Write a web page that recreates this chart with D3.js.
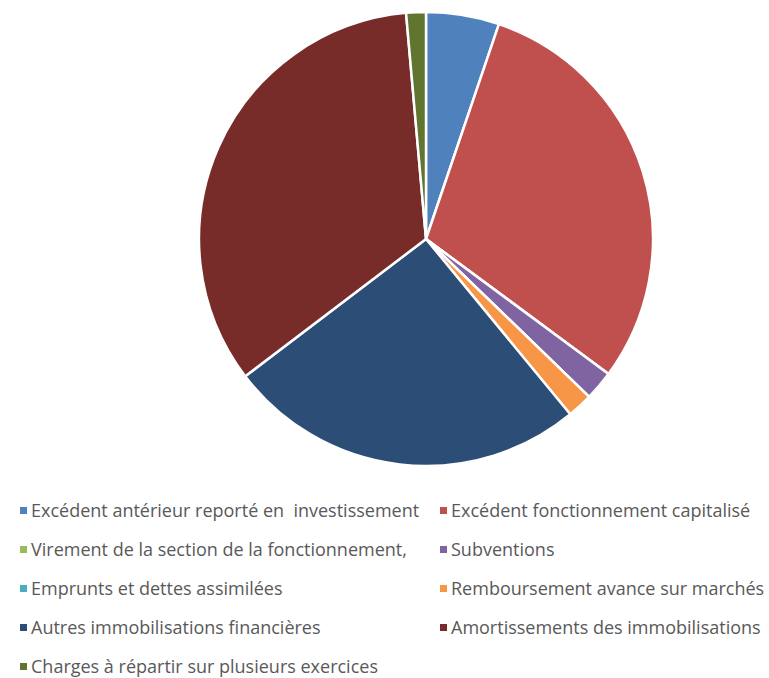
<!DOCTYPE html>
<html>
<head>
<meta charset="utf-8">
<script src="https://cdn.jsdelivr.net/npm/d3@7"></script>
<style>
  body { margin: 0; background: #fff; }
  svg { display: block; }
</style>
</head>
<body>
<div id="host"></div>
<script>
const categories = [
  'Excédent antérieur reporté en  investissement',
  'Excédent fonctionnement capitalisé',
  'Virement de la section de la fonctionnement,',
  'Subventions',
  'Emprunts et dettes assimilées',
  'Remboursement avance sur marchés',
  'Autres immobilisations financières',
  'Amortissements des immobilisations',
  'Charges à répartir sur plusieurs exercices',
];
const values = [5.2, 29.9, 0, 2.1, 0, 1.8, 25.6, 33.9, 1.4];
const colors = ['#4F81BD', '#C0504D', '#9BBB59', '#8064A2', '#4BACC6', '#F79646', '#2C4D75', '#772C2A', '#5F7530'];

const width = 769;
const height = 678;
const cx = 426, cy = 239, radius = 227;

const svg = d3.select('#host').append('svg')
  .attr('width', width)
  .attr('height', height);

const pie = d3.pie().sort(null).value((d) => d);
const arc = d3.arc().innerRadius(0).outerRadius(radius);

svg.append('g')
  .attr('transform', `translate(${cx},${cy})`)
  .selectAll('path')
  .data(pie(values))
  .join('path')
  .attr('d', arc)
  .attr('fill', (d, i) => colors[i])
  .attr('stroke', '#fff')
  .attr('stroke-width', 2.5)
  .attr('stroke-linejoin', 'round');

// legend: two columns, Excel style
const col = d3.scaleOrdinal().domain([0, 1]).range([20, 440]);
const row = d3.scaleLinear().domain([0, 4]).range([511, 667]);

const items = svg.append('g')
  .selectAll('g')
  .data(categories)
  .join('g')
  .attr('transform', (d, i) => `translate(${col(i % 2)},${row(Math.floor(i / 2))})`);

items.append('rect')
  .attr('x', 0).attr('y', -4)
  .attr('width', 7).attr('height', 7)
  .attr('fill', (d, i) => colors[i]);

items.append('text')
  .attr('x', 11)
  .attr('y', 0)
  .attr('dy', '0.35em')
  .attr('font-family', '"Open Sans", sans-serif')
  .attr('font-size', 18)
  .attr('fill', '#595959')
  .attr('xml:space', 'preserve')
  .style('white-space', 'pre')
  .text((d) => d);
</script>
</body>
</html>
